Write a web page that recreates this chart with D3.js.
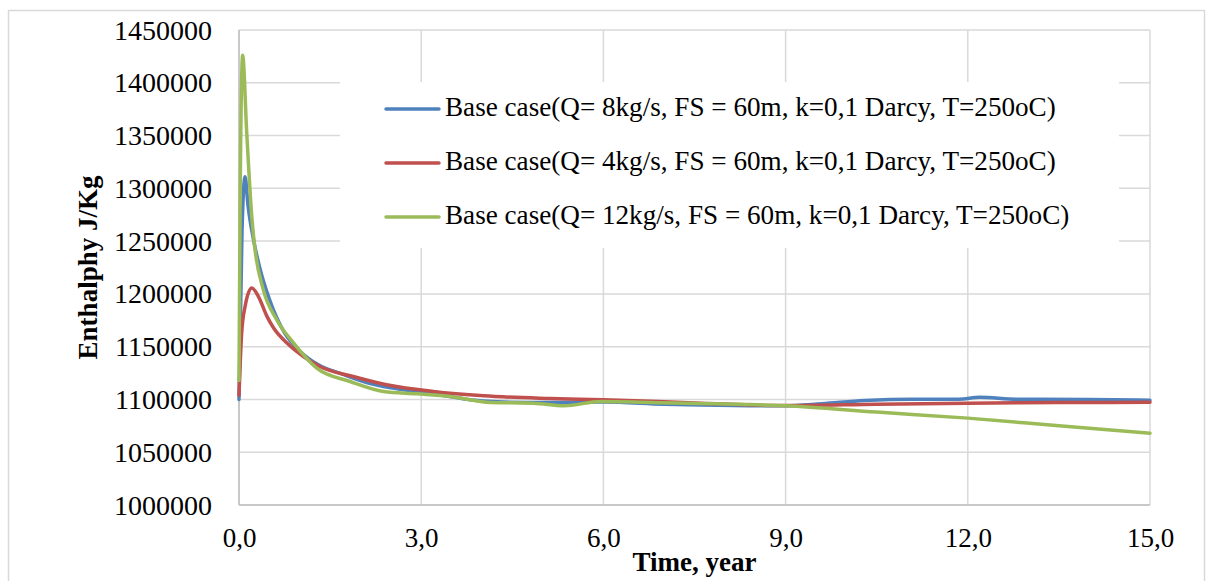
<!DOCTYPE html>
<html lang="en">

<head>
    <meta charset="UTF-8">
    <title>Enthalphy vs Time</title>
    <script src="https://d3js.org/d3.v7.min.js"></script>
    <style>
        body {
            margin: 0;
            background: #fff;
        }

        text {
            font-family: "Liberation Serif", "DejaVu Serif", serif;
            fill: #000;
        }

        .grid line {
            stroke: #d9d9d9;
            stroke-width: 1.5px;
        }

        .series {
            fill: none;
            stroke-width: 3.5px;
            stroke-linejoin: round;
            stroke-linecap: round;
        }
    </style>
</head>

<body>
    <svg id="chart" width="1213" height="581"></svg>

    <script>
        // axis ticks
        const xTicks = [0, 3, 6, 9, 12, 15];
        const yTicks = [1000000, 1050000, 1100000, 1150000, 1200000, 1250000, 1300000, 1350000, 1400000, 1450000];

        // legend labels
        const seriesNames = [
            "Base case(Q= 8kg/s, FS = 60m, k=0,1 Darcy, T=250oC)",
            "Base case(Q= 4kg/s, FS = 60m, k=0,1 Darcy, T=250oC)",
            "Base case(Q= 12kg/s, FS = 60m, k=0,1 Darcy, T=250oC)"
        ];
        const seriesColors = ["#4f81bd", "#c0504d", "#9bbb59"];

        // Q = 8 kg/s (blue)
        const timeQ8 = [0, 0.05, 0.1, 0.15, 0.24, 0.35, 0.5, 0.75, 1.0, 1.3, 1.7, 2.1, 2.5, 3.0, 3.5, 3.8, 4.25, 5.0, 6.0, 7.0, 7.6, 9.0, 9.6, 10.3, 11.1, 11.85, 12.2, 12.8, 14.0, 15.0];
        const enthalpyQ8 = [1100000, 1260000, 1311000, 1283000, 1251000, 1223000, 1195000, 1163000, 1146000, 1133000, 1124000, 1116000, 1111000, 1107000, 1102500, 1099700, 1097700, 1097000, 1097500, 1095500, 1094800, 1094000, 1096000, 1099000, 1100300, 1100300, 1102000, 1100200, 1100000, 1099300];

        // Q = 4 kg/s (red)
        const timeQ4 = [0, 0.044, 0.1, 0.21, 0.32, 0.46, 0.57, 0.79, 1.06, 1.33, 1.88, 2.43, 3.2, 4.03, 5.13, 6.0, 7.6, 9.0, 10.5, 12.0, 13.5, 15.0];
        const enthalpyQ4 = [1104000, 1163000, 1188000, 1205500, 1197500, 1178700, 1167700, 1153400, 1140700, 1131200, 1121700, 1113900, 1107500, 1103400, 1100900, 1099700, 1096500, 1094200, 1095500, 1096500, 1097000, 1097400];

        // Q = 12 kg/s (green)
        const timeQ12 = [0, 0.02, 0.06, 0.127, 0.21, 0.264, 0.4, 0.62, 0.9, 1.28, 1.83, 2.38, 2.93, 3.48, 4.14, 4.85, 5.35, 5.96, 6.78, 8.43, 9.0, 10.5, 12.0, 13.5, 15.0];
        const enthalpyQ12 = [1118000, 1300000, 1426000, 1352900, 1273500, 1242000, 1204000, 1175500, 1153400, 1129700, 1117000, 1107500, 1105300, 1102800, 1097100, 1096500, 1094000, 1098100, 1097100, 1095200, 1094000, 1088000, 1082300, 1075000, 1068000];

        const seriesTimes = [timeQ8, timeQ4, timeQ12];
        const seriesValues = [enthalpyQ8, enthalpyQ4, enthalpyQ12];

        const svg = d3.select("#chart");

        // outer chart border
        svg.append("rect")
            .attr("x", 8.5)
            .attr("y", 10.5)
            .attr("width", 1196)
            .attr("height", 600)
            .attr("fill", "none")
            .attr("stroke", "#d9d9d9")
            .attr("stroke-width", 1.5);

        // plot area
        const plot = { left: 239, right: 1150, top: 30, bottom: 505 };

        const x = d3.scaleLinear().domain([0, 15]).range([plot.left, plot.right]);
        const y = d3.scaleLinear().domain([1000000, 1450000]).range([plot.bottom, plot.top]);

        // gridlines
        const grid = svg.append("g").attr("class", "grid");
        grid.selectAll(".h")
            .data(yTicks)
            .enter()
            .append("line")
            .attr("x1", plot.left)
            .attr("x2", plot.right)
            .attr("y1", d => y(d))
            .attr("y2", d => y(d));
        grid.selectAll(".v")
            .data(xTicks)
            .enter()
            .append("line")
            .attr("x1", d => x(d))
            .attr("x2", d => x(d))
            .attr("y1", plot.top)
            .attr("y2", plot.bottom);

        // axis lines
        svg.append("line")
            .attr("x1", plot.left).attr("x2", plot.left)
            .attr("y1", plot.top).attr("y2", plot.bottom)
            .attr("stroke", "#c8c8c8").attr("stroke-width", 2);
        svg.append("line")
            .attr("x1", plot.left).attr("x2", plot.right)
            .attr("y1", plot.bottom).attr("y2", plot.bottom)
            .attr("stroke", "#c8c8c8").attr("stroke-width", 2);

        // y axis labels
        const yAxis = svg.append("g")
            .attr("transform", `translate(${plot.left},0)`)
            .call(d3.axisLeft(y).tickValues(yTicks).tickSize(0).tickPadding(27).tickFormat(d => d));
        yAxis.select(".domain").remove();
        yAxis.selectAll("text")
            .attr("dy", null)
            .attr("y", 9)
            .style("font-family", "'Liberation Serif', serif")
            .style("font-size", "28px");

        // x axis labels
        const xAxis = svg.append("g")
            .attr("transform", `translate(0,${plot.bottom})`)
            .call(d3.axisBottom(x).tickValues(xTicks).tickSize(0).tickPadding(0)
                .tickFormat(d => d3.format(".1f")(d).replace(".", ",")));
        xAxis.select(".domain").remove();
        xAxis.selectAll("text")
            .attr("dy", null)
            .attr("y", 42)
            .style("font-family", "'Liberation Serif', serif")
            .style("font-size", "27px");

        // axis titles
        svg.append("text")
            .attr("x", (plot.left + plot.right) / 2)
            .attr("y", 571)
            .attr("text-anchor", "middle")
            .style("font-size", "27px")
            .style("font-weight", "bold")
            .text("Time, year");

        svg.append("text")
            .attr("transform", `translate(97,${(plot.top + plot.bottom) / 2}) rotate(-90)`)
            .attr("text-anchor", "middle")
            .style("font-size", "27px")
            .style("font-weight", "bold")
            .text("Enthalphy J/Kg");

        // legend background hides the gridlines behind it
        svg.append("rect")
            .attr("x", 340)
            .attr("y", 82)
            .attr("width", 779)
            .attr("height", 166)
            .attr("fill", "#fff");

        // series lines
        const line = d3.line()
            .x(d => x(d[0]))
            .y(d => y(d[1]))
            .curve(d3.curveMonotoneX);

        seriesValues.forEach((vals, i) => {
            const pts = seriesTimes[i].map((t, j) => [t, vals[j]]);
            svg.append("path")
                .datum(pts)
                .attr("class", "series")
                .attr("stroke", seriesColors[i])
                .attr("d", line);
        });

        // legend entries
        const legendRows = [109, 163, 217];
        seriesNames.forEach((name, i) => {
            svg.append("line")
                .attr("x1", 386).attr("x2", 439)
                .attr("y1", legendRows[i]).attr("y2", legendRows[i])
                .attr("stroke", seriesColors[i])
                .attr("stroke-width", 3.5)
                .attr("stroke-linecap", "round");
            const t = svg.append("text")
                .attr("x", 445)
                .attr("y", legendRows[i] + 7)
                .style("font-size", "24px")
                .text(name);
            // scale font so the first label spans like the reference
            if (i === 0) {
                const w = t.node().getComputedTextLength();
                window.legendSize = 24 * 611 / w;
            }
            t.style("font-size", window.legendSize + "px");
        });
    </script>
</body>

</html>
